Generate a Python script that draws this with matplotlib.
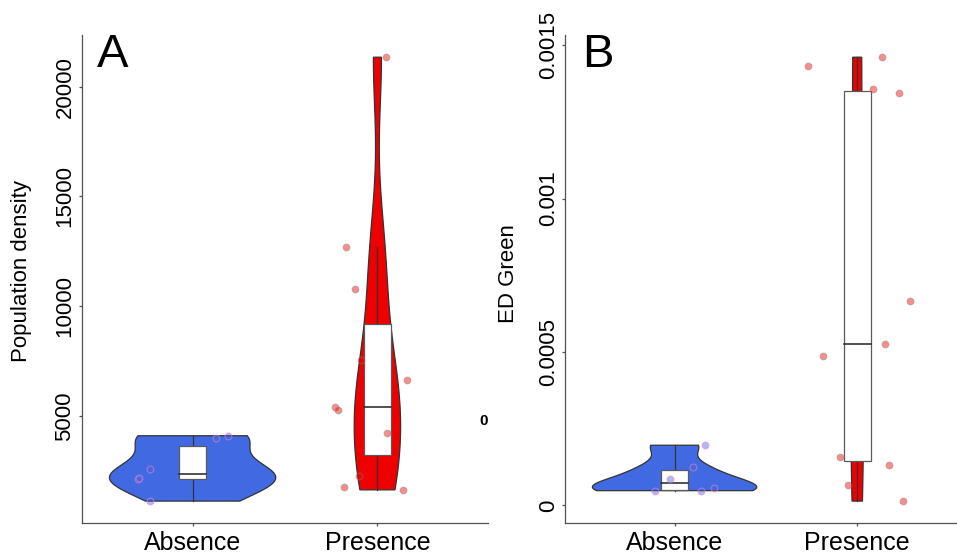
import numpy as np
import matplotlib
matplotlib.use("Agg")
import matplotlib.pyplot as plt
from matplotlib.patches import Rectangle

plt.rcParams['font.family'] = ['Liberation Sans', 'DejaVu Sans']

# ---------------- data ----------------
categories = ["Absence", "Presence"]

popdens_absence = [1133, 2120, 2170, 2590, 3985, 4108]
popdens_presence = [21341, 12710, 10807, 7549, 6662, 5420, 5291, 4242, 2258, 1774, 1645]

edgreen_absence = [0.000196, 0.000124, 0.000086, 0.000048, 0.000048, 0.000057]
edgreen_presence = [0.001431, 0.001461, 0.001357, 0.001343, 0.000667, 0.000527,
                    0.000487, 0.000157, 0.0001316, 0.000066, 0.0000139]

# horizontal jitter of the points (category units)
jit_pop_absence = [-0.232, -0.295, -0.292, -0.229, 0.128, 0.189]
jit_pop_presence = [0.045, -0.171, -0.122, -0.088, 0.162, -0.232, -0.211, 0.054, -0.10, -0.18, 0.137]
jit_ed_absence = [0.169, 0.102, -0.027, -0.108, 0.142, 0.215]
jit_ed_presence = [-0.268, 0.133, 0.086, 0.228, 0.29, 0.151, -0.19, -0.095, 0.173, -0.049, 0.253]

panel_labels = ["A", "B"]
y_titles = ["Population density", "ED Green"]
yticks_A = [5000, 10000, 15000, 20000]
yticklabels_A = ["5000", "10000", "15000", "20000"]
yticks_B = [0, 0.0005, 0.001, 0.0015]
yticklabels_B = ["0", "0.0005", "0.001", "0.0015"]
stray_label = "0"

# ---------------- style ----------------
violin_colors = ["#4169E1", "#EE0000"]
point_face = [(0.255, 0.41, 0.88, 0.45), (1.0, 0.0, 0.0, 0.45)]
point_edge = [(0.93, 0.5, 0.8, 0.6), (0.5, 0.5, 0.5, 0.45)]
line_col = "#333333"
axis_col = "#505050"

W, H = 957, 556


def nrd0(x):
    x = np.asarray(x, float)
    sd = x.std(ddof=1)
    q75, q25 = np.percentile(x, [75, 25])
    lo = min(sd, (q75 - q25) / 1.34)
    if lo <= 0:
        lo = sd
    return 0.9 * lo * len(x) ** (-0.2)


def kde(x, grid):
    x = np.asarray(x, float)
    bw = nrd0(x)
    z = (grid[:, None] - x[None, :]) / bw
    return np.exp(-0.5 * z ** 2).sum(1) / (len(x) * bw * np.sqrt(2 * np.pi))


def draw_panel(ax, groups, jitters, yticks, yticklabels):
    grids, dens = [], []
    for g in groups:
        grid = np.linspace(min(g), max(g), 512)
        grids.append(grid)
        dens.append(kde(g, grid))
    mx = max(d.max() for d in dens)
    for i, (g, grid, d, jit) in enumerate(zip(groups, grids, dens, jitters)):
        pos = i + 1
        w = d / mx * 0.45
        xs = np.concatenate([pos - w, (pos + w)[::-1]])
        ys = np.concatenate([grid, grid[::-1]])
        ax.fill(xs, ys, facecolor=violin_colors[i], edgecolor=line_col, lw=0.9, zorder=2)
        arr = np.asarray(g, float)
        q1, med, q3 = np.percentile(arr, [25, 50, 75])
        iqr = q3 - q1
        hi = arr[arr <= q3 + 1.5 * iqr].max()
        lo = arr[arr >= q1 - 1.5 * iqr].min()
        ax.plot([pos, pos], [q3, hi], color=line_col, lw=0.9, zorder=3)
        ax.plot([pos, pos], [lo, q1], color=line_col, lw=0.9, zorder=3)
        ax.add_patch(Rectangle((pos - 0.075, q1), 0.15, q3 - q1, facecolor="white",
                               edgecolor="#5a5a5a", lw=0.9, zorder=4))
        ax.plot([pos - 0.075, pos + 0.075], [med, med], color=line_col, lw=1.2, zorder=5)
        ax.scatter(pos + np.asarray(jit), arr, s=24, facecolor=point_face[i],
                   edgecolor=point_edge[i], linewidth=0.8, zorder=6)
    allv = np.concatenate([np.asarray(g, float) for g in groups])
    r = allv.max() - allv.min()
    ax.set_ylim(allv.min() - 0.05 * r, allv.max() + 0.05 * r)
    ax.set_xlim(0.4, 2.6)
    ax.set_xticks([1, 2])
    ax.set_xticklabels(categories, fontsize=18)
    ax.set_yticks(yticks)
    ax.set_yticklabels(yticklabels, fontsize=16, rotation=90, va="center")
    for s in ["top", "right"]:
        ax.spines[s].set_visible(False)
    for s in ["left", "bottom"]:
        ax.spines[s].set_color(axis_col)
        ax.spines[s].set_linewidth(0.9)
    ax.tick_params(axis="both", colors=axis_col, length=2.5, width=0.9)
    ax.tick_params(axis="y", pad=2, labelcolor="black")
    ax.tick_params(axis="x", pad=3, labelcolor="black")


fig = plt.figure(figsize=(W / 100, H / 100), dpi=100)

axA = fig.add_axes([81.7 / W, (H - 523.3) / H, 406.6 / W, 488.3 / H])
axB = fig.add_axes([565 / W, (H - 523.3) / H, 401.8 / W, 488.3 / H])

draw_panel(axA, [popdens_absence, popdens_presence], [jit_pop_absence, jit_pop_presence],
           yticks_A, yticklabels_A)
draw_panel(axB, [edgreen_absence, edgreen_presence], [jit_ed_absence, jit_ed_presence],
           yticks_B, yticklabels_B)

# axis titles
fig.text(22 / W, 1 - 270.6 / H, y_titles[0], rotation=90, ha="center", va="center", fontsize=16)
fig.text(508.7 / W, 1 - 274 / H, y_titles[1], rotation=90, ha="center", va="center", fontsize=16)

# panel letters
fig.text(97 / W, 1 - 67.2 / H, panel_labels[0], ha="left", va="baseline", fontsize=34)
fig.text(581.7 / W, 1 - 67.2 / H, panel_labels[1], ha="left", va="baseline", fontsize=34)

# stray label between panels
fig.text(484 / W, 1 - 421 / H, stray_label, ha="center", va="center", fontsize=11, fontweight="bold")

fig.savefig("out.png", dpi=100)
